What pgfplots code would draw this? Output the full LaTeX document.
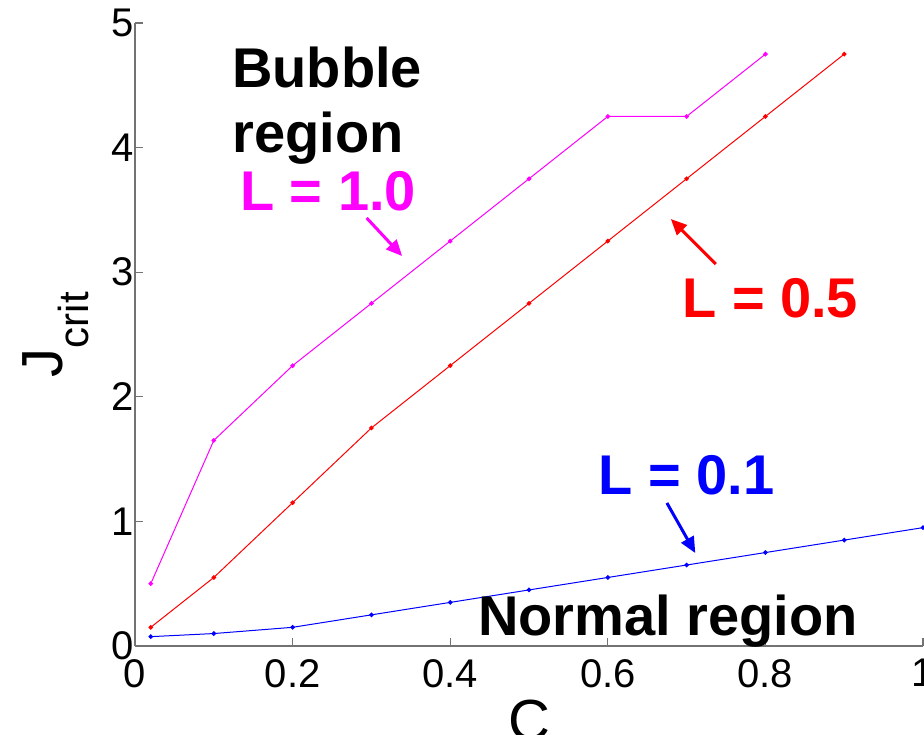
\documentclass[border=0pt]{standalone}
\usepackage{fontspec}
\setmainfont{Liberation Sans}
\usepackage{pgfplots}
\pgfplotsset{compat=1.18}
\usetikzlibrary{arrows.meta}

\definecolor{magL}{rgb}{1,0,1}
\definecolor{redL}{rgb}{1,0,0}
\definecolor{bluL}{rgb}{0,0,1}

\pgfplotstableread{
C J
0.02 0.50
0.10 1.65
0.20 2.25
0.30 2.75
0.40 3.25
0.50 3.75
0.60 4.25
0.70 4.25
0.80 4.75
}\Lone

\pgfplotstableread{
C J
0.02 0.15
0.10 0.55
0.20 1.15
0.30 1.75
0.40 2.25
0.50 2.75
0.60 3.25
0.70 3.75
0.80 4.25
0.90 4.75
}\Lhalf

\pgfplotstableread{
C J
0.02 0.075
0.10 0.10
0.20 0.15
0.30 0.25
0.40 0.35
0.50 0.45
0.60 0.55
0.70 0.65
0.80 0.75
0.90 0.85
1.00 0.95
}\Ltenth

\newcommand{\annfont}{\fontsize{28}{33}\selectfont\bfseries}

\begin{document}
\begin{tikzpicture}
\useasboundingbox (0,0) rectangle (462pt,367pt);
\clip (0,0) rectangle (462pt,367pt);
\begin{axis}[
    at={(67.5pt,44pt)}, anchor=south west,
    scale only axis,
    width=394pt, height=311.5pt,
    xmin=0, xmax=1, ymin=0, ymax=5,
    axis x line*=bottom, axis y line*=left,
    axis line style={black!55, line width=0.6pt},
    tick style={black!55, line width=0.6pt},
    tick align=inside,
    major tick length=4pt,
    xtick={0,0.2,0.4,0.6,0.8,1},
    ytick={0,1,2,3,4,5},
    /pgf/number format/assume math mode=true,
    ticklabel style={font=\fontsize{20}{24}\selectfont},
    xticklabel style={yshift=-3pt},
    yticklabel style={xshift=3pt},
    xlabel={C},
    xlabel style={at={(axis description cs:0.5,-0.151)}, anchor=base, font=\fontsize{29}{34}\selectfont},
    ylabel={J\raisebox{-13pt}{\fontsize{21}{24}\selectfont crit}},
    ylabel style={at={(axis description cs:-0.0926,0.5)}, anchor=base, font=\fontsize{29}{34}\selectfont},
    clip=false,
]
\addplot[magL, line width=0.5pt, mark=*, mark size=0.9pt] table[x=C,y=J] {\Lone};
\addplot[redL, line width=0.5pt, mark=*, mark size=0.9pt] table[x=C,y=J] {\Lhalf};
\addplot[bluL, line width=0.5pt, mark=*, mark size=0.9pt] table[x=C,y=J] {\Ltenth};

\node[anchor=base west, inner sep=0pt, font=\annfont] at (axis cs:0.123,4.486) {Bubble};
\node[anchor=base west, inner sep=0pt, font=\annfont] at (axis cs:0.123,3.957) {region};
\node[anchor=base west, inner sep=0pt, font=\annfont, text=magL] at (axis cs:0.133,3.499) {L = 1.0};
\node[anchor=base west, inner sep=0pt, font=\annfont, text=redL] at (axis cs:0.694,2.640) {L = 0.5};
\node[anchor=base west, inner sep=0pt, font=\annfont, text=bluL] at (axis cs:0.588,1.212) {L = 0.1};
\node[anchor=base west, inner sep=0pt, font=\annfont] at (axis cs:0.435,0.088) {Normal region};

\draw[magL, line width=1.5pt, -{Triangle[length=8pt,width=7pt]}] (axis cs:0.294,3.435) -- (axis cs:0.339,3.130);
\draw[redL, line width=1.5pt, -{Triangle[length=8pt,width=7pt]}] (axis cs:0.737,3.066) -- (axis cs:0.680,3.427);
\draw[bluL, line width=1.5pt, -{Triangle[length=8pt,width=7pt]}] (axis cs:0.675,1.148) -- (axis cs:0.711,0.746);
\end{axis}
\end{tikzpicture}
\end{document}
